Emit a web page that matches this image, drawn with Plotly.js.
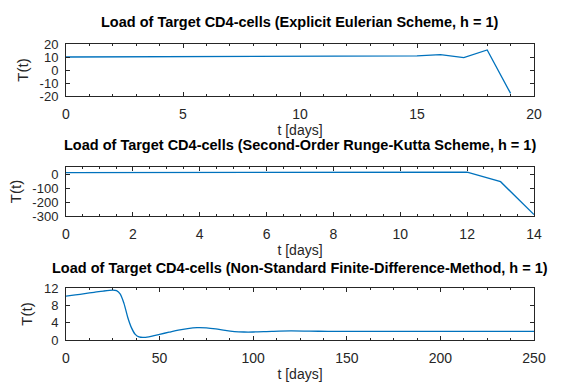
<!DOCTYPE html>
<html>
<head>
<meta charset="utf-8">
<script src="https://cdn.plot.ly/plotly-3.0.1.min.js"></script>
<style>
  html, body { margin: 0; padding: 0; background: #fff; }
  #chart { width: 569px; height: 389px; }
</style>
</head>
<body>
<div id="chart"></div>
<script>
// Explicit Euler, h = 1
const tEuler = [0, 1, 2, 3, 4, 5, 6, 7, 8, 9, 10, 11, 12, 13, 14, 15, 16, 17, 18, 19];
const yEuler = [10, 10.05, 10.1, 10.15, 10.2, 10.25, 10.3, 10.35, 10.4, 10.45, 10.5, 10.55, 10.6, 10.65, 10.7, 10.8, 11.8, 9.5, 15.4, -18];

// Second-order Runge-Kutta, h = 1
const tRK = [0, 1, 2, 3, 4, 5, 6, 7, 8, 9, 10, 11, 12, 13, 14];
const yRK = [10, 10.1, 10.2, 10.3, 10.4, 10.5, 10.6, 10.7, 10.8, 10.9, 11, 11.5, 14, -55, -290];

// Non-standard finite difference, h = 1
const tNSFD = [0, 5, 10, 15, 20, 25, 27, 29, 31, 33, 35, 37, 39, 42, 46, 50, 55, 60, 65, 70, 75, 80, 85, 90, 95, 100, 110, 120, 130, 140, 150, 175, 200, 225, 250];
const yNSFD = [10.1, 10.4, 10.7, 11.0, 11.3, 11.5, 11.4, 10.6, 8.4, 5.2, 2.8, 1.3, 0.7, 0.6, 0.9, 1.3, 1.8, 2.3, 2.65, 2.85, 2.8, 2.55, 2.2, 1.95, 1.85, 1.85, 2.0, 2.1, 2.05, 2.0, 2.0, 2.0, 2.0, 2.0, 2.0];

// y tick values per panel (labels use a plain hyphen like the original)
const yTicks1 = [-20, -10, 0, 10, 20];
const yTicks2 = [-300, -200, -100, 0];
const yTicks3 = [0, 4, 8, 12];

const titles = [
    'Load of Target CD4-cells (Explicit Eulerian Scheme, h = 1)',
    'Load of Target CD4-cells (Second-Order Runge-Kutta Scheme, h = 1)',
    'Load of Target CD4-cells (Non-Standard Finite-Difference-Method, h = 1)'
];

const W = 569, H = 389;
const lineColor = '#0072BD';
const axisColor = '#262626';
const fontFam = '"Liberation Sans", Arial, sans-serif';

// plot boxes in pixels
const boxX = [66, 534];
const boxY = [[44, 96], [167, 216], [288, 340]];
const titleY = [22, 145, 268];

function xAxis(range, dtick, minorDtick, anchor) {
    return {
        domain: [boxX[0] / W, boxX[1] / W],
        range: range,
        dtick: dtick,
        tick0: 0,
        anchor: anchor,
        showgrid: false,
        zeroline: false,
        showline: true,
        linecolor: axisColor,
        linewidth: 1,
        mirror: 'ticks',
        ticks: 'inside',
        ticklen: 4,
        tickcolor: axisColor,
        ticklabelstandoff: 5,
        minor: {dtick: minorDtick, ticks: 'inside', ticklen: 2, tickcolor: axisColor, showgrid: false},
        tickfont: {family: fontFam, size: 14, color: axisColor},
        title: {text: 't [days]', font: {family: fontFam, size: 14, color: axisColor}, standoff: 4}
    };
}

function yAxis(i, range, tickvals, anchor) {
    return {
        domain: [1 - boxY[i][1] / H, 1 - boxY[i][0] / H],
        range: range,
        tickmode: 'array',
        tickvals: tickvals,
        ticktext: tickvals.map(v => String(v)),
        anchor: anchor,
        showgrid: false,
        zeroline: false,
        showline: true,
        linecolor: axisColor,
        linewidth: 1,
        mirror: 'ticks',
        ticks: 'inside',
        ticklen: 4,
        tickcolor: axisColor,
        ticklabelstandoff: 4,
        tickfont: {family: fontFam, size: 13, color: axisColor},
        title: {text: 'T(t)', font: {family: fontFam, size: 15, color: axisColor}, standoff: 7}
    };
}

const traces = [
    {x: tEuler, y: yEuler, xaxis: 'x', yaxis: 'y', type: 'scatter', mode: 'lines',
     line: {color: lineColor, width: 1.3}},
    {x: tRK, y: yRK, xaxis: 'x2', yaxis: 'y2', type: 'scatter', mode: 'lines',
     line: {color: lineColor, width: 1.3}},
    {x: tNSFD, y: yNSFD, xaxis: 'x3', yaxis: 'y3', type: 'scatter', mode: 'lines',
     line: {color: lineColor, width: 1.3, shape: 'spline', smoothing: 0.8}}
];

const annotations = titles.map((t, i) => ({
    text: '<b>' + t + '</b>',
    xref: 'paper', yref: 'paper',
    x: (boxX[0] + boxX[1]) / 2 / W,
    y: 1 - titleY[i] / H,
    xanchor: 'center', yanchor: 'middle',
    showarrow: false,
    font: {family: fontFam, size: 14.5, color: '#000'}
}));

const layout = {
    width: W,
    height: H,
    margin: {l: 0, r: 0, t: 0, b: 0},
    paper_bgcolor: '#fff',
    plot_bgcolor: '#fff',
    showlegend: false,
    xaxis: xAxis([0, 20], 5, 1, 'y'),
    yaxis: yAxis(0, [-20, 20], yTicks1, 'x'),
    xaxis2: xAxis([0, 14], 2, 0.5, 'y2'),
    yaxis2: yAxis(1, [-300, 50], yTicks2, 'x2'),
    xaxis3: xAxis([0, 250], 50, 12.5, 'y3'),
    yaxis3: yAxis(2, [0, 12], yTicks3, 'x3'),
    annotations: annotations
};

Plotly.newPlot('chart', traces, layout, {staticPlot: true});
</script>
</body>
</html>
